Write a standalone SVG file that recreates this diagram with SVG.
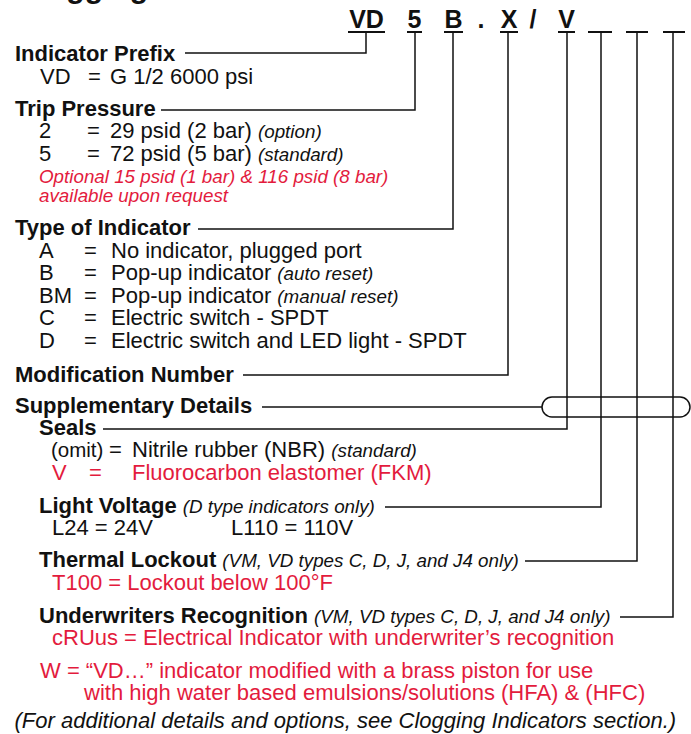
<svg xmlns="http://www.w3.org/2000/svg" width="691" height="734" viewBox="0 0 691 734">
<style>
text{font-family:"Liberation Sans",Arial,Helvetica,sans-serif;fill:#111}
.h{font-weight:bold;font-size:22px}
.b{font-size:22px}
.n{font-size:18.8px;font-style:italic;font-weight:normal}
.f{font-size:22px;font-style:italic}
.r{fill:#e31b3d}
.code{font-weight:bold;font-size:25px;text-anchor:middle}
.ln{fill:none;stroke:#111;stroke-width:1.5}
.ul{stroke:#111;stroke-width:2}
</style>
<rect width="691" height="734" fill="#fff"/>
<text class="h" x="18" y="-2" style="font-size:30px">Clogging Indicators</text>

<g id="code">
<text class="code" x="366.5" y="28">VD</text>
<text class="code" x="414.5" y="28">5</text>
<text class="code" x="453.5" y="28">B</text>
<text class="code" x="481" y="28">.</text>
<text class="code" x="509" y="28">X</text>
<text class="code" x="533" y="28">/</text>
<text class="code" x="566.5" y="28">V</text>
<line class="ul" x1="348" y1="32" x2="385" y2="32"/>
<line class="ul" x1="407" y1="32" x2="422" y2="32"/>
<line class="ul" x1="444" y1="32" x2="463" y2="32"/>
<line class="ul" x1="500" y1="32" x2="518" y2="32"/>
<line class="ul" x1="558" y1="32" x2="575" y2="32"/>
<line class="ul" x1="588" y1="32" x2="612" y2="32"/>
<line class="ul" x1="626" y1="32" x2="648" y2="32"/>
<line class="ul" x1="663" y1="32" x2="685" y2="32"/>
</g>

<g id="connectors">
<path class="ln" d="M185,53 H366 V32"/>
<path class="ln" d="M161,110 H415 V32"/>
<path class="ln" d="M198,229 H453 V32"/>
<path class="ln" d="M243,375 H508 V32"/>
<path class="ln" d="M262,407 H542"/>
<rect class="ln" x="542" y="397" width="148" height="20" rx="10"/>
<path class="ln" d="M103,429 H567 V32"/>
<path class="ln" d="M385,507 H601 V32"/>
<path class="ln" d="M525,561 H637 V32"/>
<path class="ln" d="M620,617 H673 V32"/>
</g>

<g id="indicator-prefix">
<text class="h" x="15" y="61">Indicator Prefix</text>
<text class="b" y="84"><tspan x="40">VD</tspan><tspan x="88">=</tspan><tspan x="110">G 1/2 6000 psi</tspan></text>
</g>

<g id="trip-pressure">
<text class="h" x="15" y="116">Trip Pressure</text>
<text class="b" y="138"><tspan x="39">2</tspan><tspan x="87">=</tspan><tspan x="110">29 psid (2 bar) </tspan><tspan class="n">(option)</tspan></text>
<text class="b" y="161"><tspan x="39">5</tspan><tspan x="87">=</tspan><tspan x="110">72 psid (5 bar) </tspan><tspan class="n">(standard)</tspan></text>
<text class="n r" x="39" y="183">Optional 15 psid (1 bar) &amp; 116 psid (8 bar)</text>
<text class="n r" x="39" y="202">available upon request</text>
</g>

<g id="type-of-indicator">
<text class="h" x="15" y="235">Type of Indicator</text>
<text class="b" y="258"><tspan x="39">A</tspan><tspan x="84">=</tspan><tspan x="111">No indicator, plugged port</tspan></text>
<text class="b" y="280"><tspan x="39">B</tspan><tspan x="84">=</tspan><tspan x="111">Pop-up indicator </tspan><tspan class="n">(auto reset)</tspan></text>
<text class="b" y="303"><tspan x="39">BM</tspan><tspan x="84">=</tspan><tspan x="111">Pop-up indicator </tspan><tspan class="n">(manual reset)</tspan></text>
<text class="b" y="325"><tspan x="39">C</tspan><tspan x="84">=</tspan><tspan x="111">Electric switch - SPDT</tspan></text>
<text class="b" y="348"><tspan x="39">D</tspan><tspan x="84">=</tspan><tspan x="111">Electric switch and LED light - SPDT</tspan></text>
</g>

<g id="modification-number">
<text class="h" x="15" y="382">Modification Number</text>
</g>

<g id="supplementary-details">
<text class="h" x="15" y="413">Supplementary Details</text>
</g>

<g id="seals">
<text class="h" x="39" y="435">Seals</text>
<text class="b" y="457"><tspan x="51" style="font-size:20.5px">(omit)</tspan><tspan x="109">=</tspan><tspan x="132">Nitrile rubber (NBR) </tspan><tspan class="n">(standard)</tspan></text>
<text class="b r" y="480"><tspan x="52">V</tspan><tspan x="89">=</tspan><tspan x="132">Fluorocarbon elastomer (FKM)</tspan></text>
</g>

<g id="light-voltage">
<text class="h" x="39" y="513">Light Voltage <tspan class="n">(D type indicators only)</tspan></text>
<text class="b" y="535"><tspan x="52">L24 = 24V</tspan><tspan x="231">L110 = 110V</tspan></text>
</g>

<g id="thermal-lockout">
<text class="h" x="39" y="567">Thermal Lockout <tspan class="n">(VM, VD types C, D, J, and J4 only)</tspan></text>
<text class="b r" x="52" y="590">T100 = Lockout below 100°F</text>
</g>

<g id="underwriters-recognition">
<text class="h" x="39" y="623">Underwriters Recognition <tspan class="n">(VM, VD types C, D, J, and J4 only)</tspan></text>
<text class="b r" x="52" y="645">cRUus = Electrical Indicator with underwriter’s recognition</text>
</g>

<g id="w-option">
<text class="b r" x="40" y="678">W = “VD…” indicator modified with a brass piston for use</text>
<text class="b r" x="84" y="700">with high water based emulsions/solutions (HFA) &amp; (HFC)</text>
</g>

<g id="footnote">
<text class="f" x="14.5" y="728">(For additional details and options, see Clogging Indicators section.)</text>
</g>
</svg>
